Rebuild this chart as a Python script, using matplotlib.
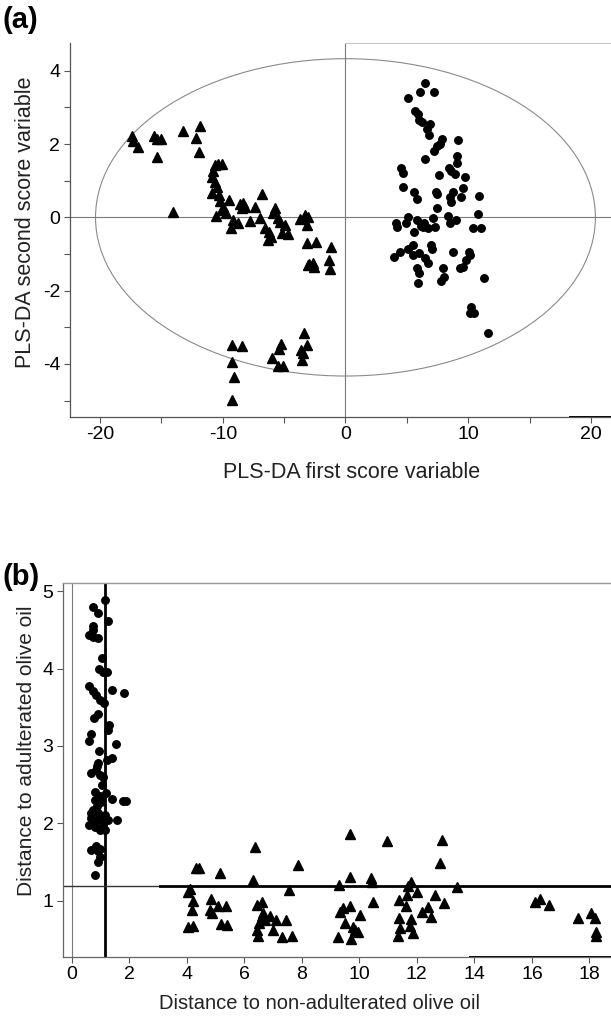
import matplotlib
matplotlib.use("Agg")
import matplotlib.pyplot as plt
from matplotlib.patches import Ellipse
import numpy as np

plt.rcParams['font.family'] = ['Liberation Sans', 'DejaVu Sans']
plt.rcParams['axes.unicode_minus'] = False

# ---------------- Panel (a) data: PLS-DA scores ----------------
tri_a_x = [-17.43, -17.29, -16.88, -15.58, -15.39, -15.06, -15.34, -13.27, -12.18, -11.83,
           -11.91, -14.06, -10.63, -10.36, -10.09, -10.77, -10.91, -10.63, -10.50, -10.91,
           -10.28, -10.23, -9.96, -9.47, -10.55, -9.74, -10.09, -9.36, -9.20, -8.79,
           -8.60, -8.33, -8.20, -8.46, -7.37, -7.78, -6.97, -6.78, -6.56, -6.21,
           -6.29, -6.10, -5.93, -5.74, -5.47, -5.34, -5.20, -4.93, -4.66, -3.71,
           -3.30, -3.03, -3.17, -3.11, -2.40, -3.03, -2.68, -2.57, -2.95, -1.18,
           -1.37, -1.26,
           -9.22, -8.44, -9.22, -9.06, -9.22, -5.96, -5.28, -5.42, -5.47, -5.12,
           -3.36, -3.17, -3.66, -3.49, -3.52]
tri_a_y = [2.22, 2.09, 1.91, 2.22, 2.15, 2.14, 1.65, 2.35, 2.17, 2.50,
           1.77, 0.15, 1.43, 1.45, 1.45, 1.26, 1.11, 0.97, 0.84, 0.67,
           0.61, 0.45, 0.29, 0.47, 0.05, 0.11, 0.20, -0.30, -0.07, -0.16,
           0.36, 0.38, 0.29, 0.25, 0.29, -0.09, -0.03, 0.64, -0.30, -0.39,
           -0.62, -0.53, 0.11, 0.25, -0.02, -0.12, -0.42, -0.21, -0.45, -0.05,
           0.06, 0.02, -0.21, -0.71, -0.68, -1.30, -1.24, -1.35, -1.28, -0.80,
           -1.16, -1.42,
           -3.48, -3.50, -3.94, -4.35, -4.98, -3.83, -3.45, -3.59, -4.07, -4.07,
           -3.15, -3.48, -3.62, -3.71, -3.89]

circ_a_x = [6.45, 6.07, 7.19, 5.09, 5.64, 5.94, 6.02, 6.24, 6.89, 6.61,
            6.81, 7.89, 7.70, 7.43, 7.21, 9.14, 9.06, 9.11, 6.45, 4.52,
            4.71, 8.41, 8.57, 8.90, 9.77, 7.62, 4.66, 5.58, 5.80, 7.40,
            7.48, 8.79, 8.52, 8.57, 9.60, 9.41, 10.88, 7.43, 10.77, 4.12,
            4.17, 4.90, 5.09, 5.58, 5.86, 6.13, 6.43, 6.75, 7.10, 7.27,
            8.38, 8.52, 9.01, 10.36, 11.04, 3.95, 4.44, 5.12, 5.53, 5.53,
            6.02, 6.51, 6.75, 6.97, 7.02, 5.86, 6.02, 5.91, 8.79, 7.97,
            8.05, 7.78, 9.33, 9.60, 9.82, 10.09, 10.15, 11.31, 10.23, 10.15,
            10.50, 11.59, 6.29]
circ_a_y = [3.67, 3.43, 3.41, 3.25, 2.90, 2.82, 2.67, 2.61, 2.56, 2.40,
            2.25, 2.14, 2.00, 1.95, 1.82, 2.11, 1.68, 1.47, 1.58, 1.36,
            1.20, 1.34, 1.27, 1.18, 1.09, 1.15, 0.82, 0.68, 0.51, 0.68,
            0.64, 0.70, 0.56, 0.43, 0.79, 0.55, 0.57, 0.25, 0.09, -0.16,
            -0.27, -0.16, 0.02, -0.39, -0.07, -0.24, -0.16, -0.30, -0.03, -0.25,
            0.04, -0.15, -0.07, -0.30, -0.30, -1.07, -0.94, -0.85, -0.75, -1.03,
            -0.98, -1.12, -1.25, -0.75, -0.87, -1.37, -1.53, -1.78, -0.94, -1.38,
            -1.64, -1.75, -1.38, -1.36, -1.16, -0.94, -1.03, -1.65, -2.44, -2.60,
            -2.62, -3.16, -0.25]

ellipse_semi_x = 20.37
ellipse_semi_y = 4.33

xticks_a = [-20, -10, 0, 10, 20]
yticks_a = [-4, -2, 0, 2, 4]

# ---------------- Panel (b) data: distances ----------------
circ_b_x = [1.17, 0.75, 0.93, 1.25, 0.75, 0.73, 0.61, 0.93, 0.75, 1.04,
            0.96, 1.08, 1.22, 0.61, 0.75, 0.85, 0.98, 1.14, 1.39, 1.82,
            0.93, 0.78, 1.31, 1.27, 0.66, 0.61, 1.54, 0.96, 1.39, 1.22,
            0.93, 0.84, 0.69, 0.98, 1.04, 0.81, 0.81, 0.98, 1.19, 1.39,
            1.80, 1.89, 0.75, 0.93, 1.16, 0.69, 0.87, 1.04, 1.27, 1.56,
            0.61, 0.81, 0.98, 1.16, 0.75, 1.10, 0.69, 0.85, 0.98, 0.93,
            0.98, 0.93, 0.81, 0.69, 0.89, 1.02, 1.10, 0.87]
circ_b_y = [4.88, 4.80, 4.72, 4.61, 4.55, 4.50, 4.43, 4.39, 4.41, 4.13,
            3.99, 3.96, 3.95, 3.77, 3.71, 3.66, 3.59, 3.56, 3.72, 3.68,
            3.41, 3.36, 3.27, 3.21, 3.16, 3.07, 3.03, 2.93, 2.84, 2.82,
            2.78, 2.69, 2.65, 2.62, 2.50, 2.41, 2.30, 2.35, 2.39, 2.32,
            2.29, 2.29, 2.17, 2.13, 2.11, 2.07, 2.05, 2.04, 2.04, 2.05,
            1.98, 1.96, 1.92, 1.92, 2.01, 1.98, 1.66, 1.71, 1.67, 1.64,
            1.57, 1.50, 1.34, 2.13, 2.22, 2.28, 2.60, 2.74]

tri_b_x = [4.06, 4.11, 4.21, 4.17, 4.06, 4.23, 4.32, 4.44, 4.84, 4.81,
           4.87, 5.10, 5.37, 5.18, 5.39, 5.17, 6.32, 6.37, 6.43, 6.62,
           6.66, 6.61, 6.72, 6.52, 6.43, 6.49, 7.01, 7.10, 7.30, 7.45,
           7.67, 7.57, 7.86, 6.90,
           9.68, 10.95, 12.86, 12.81, 9.29, 9.68, 10.40, 10.43, 10.49, 9.25,
           9.71, 9.50, 9.33, 9.45, 9.68, 10.03, 9.79, 9.97, 9.85, 11.79,
           11.71, 11.67, 12.02, 11.39, 11.62, 11.39, 11.80, 11.42, 11.77, 11.36,
           11.88, 12.17, 12.40, 12.48, 12.63, 12.95, 13.41, 16.11, 16.28, 16.61,
           17.59, 18.05, 18.20, 18.22, 18.22]
tri_b_y = [1.11, 1.16, 1.00, 0.88, 0.66, 0.67, 1.43, 1.42, 1.02, 0.88,
           0.85, 0.94, 0.93, 0.70, 0.69, 1.36, 1.27, 1.70, 0.95, 0.98,
           0.85, 0.80, 0.76, 0.71, 0.63, 0.55, 0.63, 0.76, 0.53, 0.76,
           0.55, 1.14, 1.46, 0.80,
           1.87, 1.77, 1.78, 1.49, 1.21, 1.31, 1.29, 1.24, 0.99, 0.54,
           0.51, 0.72, 0.86, 0.91, 0.93, 0.82, 0.66, 0.60, 0.62, 1.25,
           1.19, 1.08, 1.12, 1.01, 0.94, 0.78, 0.77, 0.65, 0.67, 0.55,
           0.59, 0.86, 0.92, 0.79, 1.08, 0.97, 1.18, 0.99, 1.03, 0.95,
           0.78, 0.84, 0.78, 0.60, 0.55]

threshold_x = 1.16
threshold_y = 1.19

xticks_b = [0, 2, 4, 6, 8, 10, 12, 14, 16, 18]
yticks_b = [1, 2, 3, 4, 5]

# ---------------- Figure ----------------
W, H = 611, 1027
fig = plt.figure(figsize=(W / 100, H / 100), dpi=100)

def px_axes(left, top, right, bottom):
    return fig.add_axes([left / W, 1 - bottom / H, (right - left) / W, (bottom - top) / H])

GRAY = '#7a7a7a'
TICK_FS = 14

# ----- Panel (a) -----
axa = px_axes(70, 43.3, 611, 416.7)
axa.set_xlim(-22.45, 21.64)
axa.set_ylim(-5.44, 4.75)
axa.add_patch(Ellipse((0, 0), 2 * ellipse_semi_x, 2 * ellipse_semi_y, fill=False,
                      edgecolor='#8a8a8a', lw=0.8))
axa.axhline(0, color=GRAY, lw=0.8)
axa.axvline(0, color=GRAY, lw=0.8)
axa.plot(tri_a_x, tri_a_y, linestyle='none', marker='^', ms=6.6, color='black')
axa.plot(circ_a_x, circ_a_y, linestyle='none', marker='o', ms=5.4, color='black')
axa.set_xticks(xticks_a)
axa.set_yticks(yticks_a)
axa.set_xticks([-15, -5, 5, 15], minor=True)
axa.set_yticks([-5, -3, -1, 1, 3], minor=True)
for s in ['top', 'right']:
    axa.spines[s].set_visible(False)
for s in ['left', 'bottom']:
    axa.spines[s].set_color('#555555')
    axa.spines[s].set_linewidth(0.9)
axa.plot([0, 21.64], [4.75, 4.75], color='#c4c4c4', lw=0.7, clip_on=False)
axa.plot([18.3, 21.64], [-5.44, -5.44], color='black', lw=1.4, clip_on=False)
axa.tick_params(which='both', direction='out', color='#555555', width=0.8)
axa.tick_params(which='major', length=4, labelsize=TICK_FS, pad=3)
axa.tick_params(which='minor', length=4)
axa.set_xlabel('PLS-DA first score variable', fontsize=15.5, color='#222222')
axa.set_ylabel('PLS-DA second score variable', fontsize=15.5, color='#222222')
axa.xaxis.set_label_coords(0.521, -0.121)
axa.yaxis.set_label_coords(-0.062, 0.521)
fig.text(2 / W, 1 - 20 / H, '(a)', fontsize=21, fontweight='bold', va='center', ha='left')

# ----- Panel (b) -----
axb = px_axes(63.3, 583.3, 611, 956.7)
axb.set_xlim(-0.29, 18.75)
axb.set_ylim(0.28, 5.10)
axb.axvline(0, color=GRAY, lw=0.8)
axb.axvline(threshold_x, color='black', lw=2)
axb.plot([-0.29, 3.08], [threshold_y, threshold_y], color='#333333', lw=1.0)
axb.plot([3.08, 18.75], [threshold_y, threshold_y], color='black', lw=2)
axb.plot(tri_b_x, tri_b_y, linestyle='none', marker='^', ms=6.6, color='black')
axb.plot(circ_b_x, circ_b_y, linestyle='none', marker='o', ms=5.4, color='black')
axb.set_xticks(xticks_b)
axb.set_yticks(yticks_b)
axb.spines['right'].set_visible(False)
axb.spines['top'].set_color('#999999')
axb.spines['top'].set_linewidth(1.0)
for s in ['left', 'bottom']:
    axb.spines[s].set_color('#666666')
    axb.spines[s].set_linewidth(0.9)
axb.plot([13.86, 18.75], [0.28, 0.28], color='black', lw=1.4, clip_on=False)
axb.tick_params(which='both', direction='out', color='#555555', width=0.8)
axb.tick_params(which='major', length=4, labelsize=TICK_FS, pad=3)
axb.set_xlabel('Distance to non-adulterated olive oil', fontsize=14.5, color='#222222')
axb.set_ylabel('Distance to adulterated olive oil', fontsize=15, color='#222222')
axb.xaxis.set_label_coords(0.467, -0.100)
axb.yaxis.set_label_coords(-0.050, 0.551)
fig.text(2 / W, 1 - 577 / H, '(b)', fontsize=21, fontweight='bold', va='center', ha='left')

fig.savefig('out.png', dpi=100)
